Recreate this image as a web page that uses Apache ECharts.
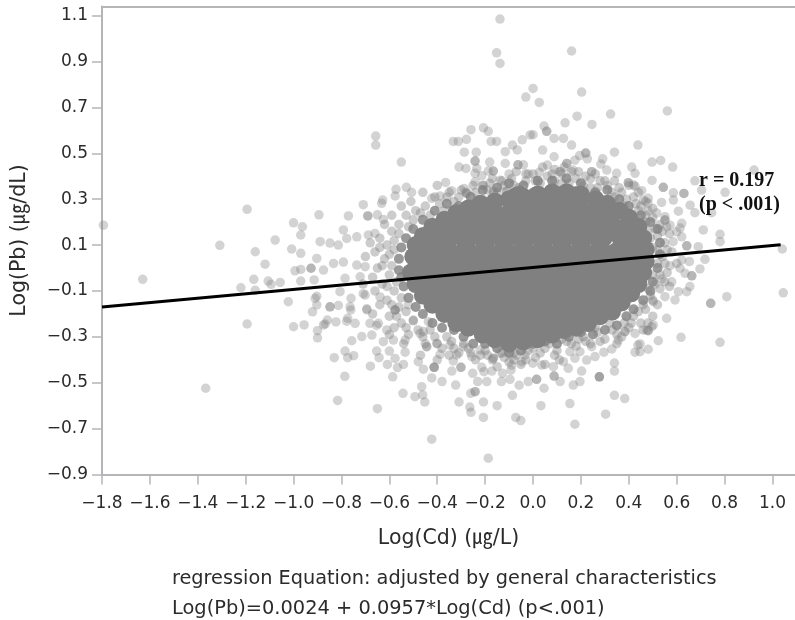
<!DOCTYPE html>
<html>
<head>
<meta charset="utf-8">
<script src="https://cdn.jsdelivr.net/npm/echarts@6/dist/echarts.min.js"></script>
<style>
html,body{margin:0;padding:0;background:#fff}
#c{width:795px;height:620px;filter:blur(0.6px)}
</style>
</head>
<body>
<div id="c"></div>
<script>
const xTicks = [-1.8,-1.6,-1.4,-1.2,-1.0,-0.8,-0.6,-0.4,-0.2,0.0,0.2,0.4,0.6,0.8,1.0];
const yTicks = [-0.9,-0.7,-0.5,-0.3,-0.1,0.1,0.3,0.5,0.7,0.9,1.1];
const xName = 'Log(Cd) (㎍/L)';
const yName = 'Log(Pb) (㎍/dL)';
const noteLine1 = 'regression Equation: adjusted by general characteristics';
const noteLine2 = 'Log(Pb)=0.0024 + 0.0957*Log(Cd) (p<.001)';
const rText = 'r = 0.197';
const pText = '(p < .001)';
const fitLine = [[-1.8,-0.17],[1.034,0.101]];

// scattered points
const outerTop = [[-0.138,1.085],[-0.152,0.938],[-0.138,0.892],[-0.03,0.745],[0,0.783],[-0.657,0.575],[-0.657,0.536],[-0.55,0.462],[-0.259,0.603],[-0.207,0.611],[-0.187,0.596],[-0.333,0.552],[-0.312,0.552],[-0.278,0.561],[-0.175,0.552],[-0.152,0.552],[-0.045,0.559],[-0.086,0.536],[-0.066,0.515],[-0.116,0.507],[-0.287,0.505],[-0.237,0.505],[-0.242,0.466],[-0.242,0.466],[-0.181,0.462],[-0.116,0.456],[-0.063,0.45],[-0.063,0.45],[-0.04,0.45],[-0.309,0.44],[-0.28,0.434],[-0.235,0.434],[-0.166,0.423],[-0.166,0.423],[-0.187,0.423],[-0.242,0.413],[-0.214,0.402],[-0.1,0.41],[-0.02,0.41],[-0.138,0.383],[-0.242,0.376],[-0.365,0.373],[-0.207,0.36],[-0.572,0.343],[-0.529,0.352],[-0.507,0.33],[-0.576,0.314],[-0.628,0.296],[-0.423,0.304],[-0.388,0.314],[-0.34,0.337],[-0.288,0.347],[-0.277,0.325],[-0.277,0.325],[-0.166,0.332],[-0.166,0.332],[-0.11,0.335],[-0.11,0.335],[-0.054,0.34],[-0.054,0.34],[-0.012,0.58],
[0.161,0.946],[0.203,0.767],[0.026,0.722],[0.561,0.685],[0.184,0.662],[0.324,0.671],[0.134,0.633],[0.246,0.626],[0.046,0.619],[0.057,0.596],[0.057,0.596],[0.0,0.581],[0.088,0.565],[0.127,0.565],[0.161,0.536],[0.438,0.536],[0.04,0.514],[0.34,0.505],[0.22,0.501],[0.22,0.501],[0.195,0.49],[0.088,0.485],[0.227,0.476],[0.291,0.476],[0.175,0.47],[0.497,0.462],[0.533,0.469],[0.583,0.44],[0.412,0.44],[0.426,0.413],[0.141,0.456],[0.141,0.456],[0.283,0.453],[0.06,0.449],[0.026,0.417],[0.113,0.42],[0.113,0.42],[0.167,0.427],[0.245,0.42],[0.245,0.42],[0.349,0.413],[0.308,0.427],[0.497,0.382],[0.676,0.38],[0.923,0.427],[0.398,0.372],[0.398,0.372],[0.426,0.357],[0.454,0.337],[0.544,0.352],[0.544,0.352],[0.586,0.328],[0.63,0.325],[0.63,0.325],[0.704,0.34],[0.802,0.33],[0.481,0.304]];
const outerRight = [[0.586,0.296],[0.537,0.286],[0.607,0.248],[0.656,0.274],[0.676,0.241],[0.746,0.241],[0.551,0.224],[0.621,0.195],[0.572,0.187],[0.6,0.158],[0.711,0.166],[0.781,0.147],[0.781,0.115],[0.621,0.136],[0.585,0.115],[0.642,0.097],[0.642,0.097],[0.69,0.093],[1.041,0.083],[1.045,-0.108],[0.809,-0.125],[0.742,-0.154],[0.742,-0.154],[0.618,-0.302],[0.781,-0.324],[0.718,0.038],[0.697,-0.004],[0.621,0.035],[0.653,0.028],[0.572,0.01],[0.614,-0.001],[0.663,-0.034],[0.663,-0.034],[0.635,-0.023],[0.579,-0.06],[0.537,-0.048],[0.655,-0.081],[0.642,-0.103],[0.607,-0.103],[0.551,-0.125],[0.593,-0.139],[0.502,-0.147],[0.558,-0.219],[0.496,-0.256],[0.475,-0.27],[0.523,-0.317],[0.438,-0.336],[0.46,0.296],[0.551,0.209],[0.551,0.209],[0.558,0.18],[0.614,0.174],[0.516,0.24],[0.48,0.283],[0.419,0.362]];
const outerBottom = [[0.502,-0.248],[0.481,-0.273],[0.481,-0.273],[0.447,-0.331],[0.481,-0.354],[0.426,-0.367],[0.447,-0.365],[0.384,-0.277],[0.384,-0.277],[0.426,-0.285],[0.356,-0.314],[0.329,-0.353],[0.296,-0.367],[0.259,-0.386],[0.34,-0.414],[0.34,-0.449],[0.277,-0.474],[0.277,-0.474],[0.277,-0.474],[0.203,-0.449],[0.196,-0.495],[0.168,-0.51],[0.34,-0.555],[0.383,-0.569],[0.154,-0.591],[0.303,-0.637],[0.175,-0.681],[0.033,-0.6],[0.046,-0.524],[0.015,-0.485],[0.015,-0.485],[0.088,-0.471],[0.088,-0.471],[0.113,-0.495],[0.147,-0.437],[0.085,-0.43],[0.036,-0.423],[-0.001,-0.415],[0.175,-0.393],[0.224,-0.401],[0.196,-0.365],[0.127,-0.408],[0.154,-0.365],[0.245,-0.343],
[-0.816,-0.577],[-0.65,-0.613],[-0.679,-0.428],[-0.586,-0.474],[-0.543,-0.546],[-0.493,-0.561],[-0.465,-0.517],[-0.461,-0.553],[-0.452,-0.584],[-0.423,-0.746],[-0.187,-0.829],[-0.309,-0.584],[-0.264,-0.606],[-0.259,-0.629],[-0.207,-0.651],[-0.207,-0.584],[-0.15,-0.6],[-0.072,-0.651],[-0.051,-0.665],[-0.086,-0.555],[-0.058,-0.511],[-0.02,-0.495],[-0.132,-0.495],[-0.096,-0.485],[-0.127,-0.459],[-0.092,-0.444],[-0.193,-0.495],[-0.231,-0.495],[-0.242,-0.539],[-0.242,-0.539],[-0.26,-0.546],[-0.323,-0.51],[-0.38,-0.495],[-0.423,-0.479],[-0.413,-0.433],[-0.413,-0.433],[-0.413,-0.433],[-0.458,-0.441],[-0.479,-0.408],[-0.541,-0.42],[-0.566,-0.434],[-0.608,-0.42],[-0.643,-0.391],[-0.576,-0.394],[-0.653,-0.362],[-0.6,-0.362],[-0.534,-0.367],[-0.339,-0.449],[-0.333,-0.405],[-0.301,-0.433],[-0.301,-0.433],[-0.252,-0.459],[-0.214,-0.433],[-0.172,-0.449],[-0.205,-0.452],[-0.388,-0.376],[-0.319,-0.379],[-0.256,-0.386],[-0.166,-0.393],[-0.166,-0.393],[-0.089,-0.423],[-0.047,-0.408],[-0.715,-0.299],[-0.673,-0.292],[-0.625,-0.321],[-0.583,-0.314],[-0.534,-0.314],[-0.458,-0.277],[-0.444,-0.343],[-0.444,-0.343],[-0.402,-0.328],[-0.347,-0.336],[-0.291,-0.343],[-0.221,-0.357],[-0.138,-0.372],[-0.082,-0.372],[-0.033,-0.379]];
const outerLeft = [[-1.794,0.187],[-1.194,0.256],[-1.308,0.099],[-1.63,-0.049],[-1.077,0.122],[-1.0,0.197],[-0.963,0.18],[-0.97,0.144],[-1.008,0.083],[-0.97,0.064],[-1.16,0.071],[-1.119,0.017],[-0.894,0.232],[-0.771,0.227],[-0.709,0.276],[-0.632,0.282],[-0.69,0.227],[-0.69,0.227],[-0.65,0.232],[-0.625,0.212],[-0.792,0.166],[-0.994,-0.012],[-0.97,-0.006],[-0.927,-0.001],[-0.927,-0.001],[-0.97,-0.057],[-0.903,0.042],[-1.166,-0.049],[-1.106,-0.057],[-1.056,-0.063],[-1.094,-0.071],[-1.22,-0.086],[-1.16,-0.097],[-1.022,-0.147],[-1.194,-0.244],[-1.367,-0.524],[-0.914,-0.052],[-0.903,-0.123],[-0.889,0.115],[-0.848,0.109],[-0.813,0.1],[-0.778,0.129],[-0.736,0.136],[-0.688,0.144],[-0.66,0.151],[-0.875,-0.009],[-0.833,0.02],[-0.792,0.026],[-0.736,0.013],[-0.701,0.006],[-0.785,-0.045],[-0.722,-0.038],[-0.701,-0.118],[-0.764,-0.169],[-0.694,-0.178],[-0.653,-0.25],[-0.778,-0.232],[-0.868,-0.244],
[-1.0,-0.256],[-0.956,-0.248],[-0.9,-0.273],[-0.9,-0.304],[-0.921,-0.191],[-0.859,-0.227],[-0.875,-0.248],[-0.823,-0.235],[-0.757,-0.317],[-0.83,-0.391],[-0.785,-0.362],[-0.774,-0.391],[-0.749,-0.382],[-0.786,-0.472],[-0.91,-0.132],[-0.848,-0.169],[-0.848,-0.169],[-0.813,-0.163],[-0.903,-0.161],[-0.761,-0.183],[-0.76,-0.132],[-0.694,-0.182],[-0.774,-0.219],[-0.743,-0.241],[-0.646,-0.241],[-0.576,-0.183],[-0.576,-0.183],[-0.576,-0.183],[-0.611,-0.27],[-0.681,-0.241],[-0.521,-0.161],[-0.5,-0.227],[-0.437,-0.234],[-0.472,-0.285],[-0.806,-0.103],[-0.709,-0.112],[-0.639,-0.126]];
// points of the crowded band round the solid core, estimated
const band = [[-0.45,0.27],[-0.41,0.31],[-0.37,0.25],[-0.33,0.29],[-0.30,0.34],[-0.27,0.28],[-0.24,0.33],[-0.21,0.30],[-0.18,0.37],[-0.15,0.33],[-0.12,0.36],[-0.09,0.39],[-0.06,0.35],[-0.03,0.38],[0.0,0.41],[0.03,0.37],[0.06,0.40],[0.09,0.38],[0.12,0.41],[0.15,0.37],[0.18,0.39],[0.21,0.36],[0.24,0.39],[0.27,0.35],[0.30,0.38],[0.33,0.33],[0.36,0.35],[0.39,0.30],[0.42,0.31],[0.45,0.27],[0.48,0.25],[0.50,0.22],[0.53,0.19],[0.47,0.20],[0.52,0.14],[0.55,0.11],[0.50,0.09],[0.54,0.05],[0.58,0.07],[0.52,0.02],[0.56,-0.02],[0.50,-0.03],[0.53,-0.09],[0.49,-0.12],[0.52,-0.16],[0.47,-0.18],[0.50,-0.21],[0.45,-0.24],[0.42,-0.21],[0.40,-0.26],[0.37,-0.30],[0.33,-0.27],[0.30,-0.31],[0.27,-0.28],[0.24,-0.33],[0.21,-0.30],[0.18,-0.34],[0.14,-0.32],[0.10,-0.36],[0.07,-0.33],[0.03,-0.37],[0.0,-0.35],[-0.03,-0.40],[-0.07,-0.38],[-0.10,-0.41],[-0.13,-0.37],[-0.17,-0.40],[-0.20,-0.36],[-0.24,-0.40],[-0.27,-0.35],[-0.31,-0.37],[-0.34,-0.32],[-0.38,-0.35],[-0.41,-0.30],[-0.45,-0.33],[-0.48,-0.27],[-0.52,-0.29],[-0.55,-0.24],[-0.58,-0.26],[-0.60,-0.21],[-0.56,-0.17],[-0.61,-0.14],[-0.58,-0.10],[-0.63,-0.07],[-0.60,-0.03],[-0.65,0.0],[-0.62,0.04],[-0.66,0.07],[-0.61,0.10],[-0.64,0.13],[-0.59,0.16],[-0.62,0.19],[-0.56,0.19],[-0.59,0.23],[-0.53,0.23],[-0.55,0.27],[-0.49,0.25],[-0.51,0.29],[-0.68,0.11],[-0.70,0.05],[-0.67,-0.04],[-0.71,-0.07],[-0.66,-0.10],[-0.64,-0.16],[-0.67,-0.20],[-0.60,-0.29],[-0.54,-0.33],[-0.47,-0.38],[-0.40,-0.40],[-0.35,-0.38],[-0.10,-0.34],[-0.40,0.36],[-0.46,0.33],[-0.35,0.33],[-0.21,0.36],[0.09,0.43],[0.16,0.42],[0.26,0.41],[0.34,0.38],[0.40,0.36],[0.44,0.25],[0.57,0.15],[0.48,0.16],[0.60,0.02],[0.55,-0.06],[0.46,-0.27],[0.35,-0.33],[0.11,-0.40],[0.05,-0.42]];
const band2 = [[-0.58,0.12],[-0.56,0.15],[-0.52,0.18],[-0.50,0.21],[-0.47,0.24],[-0.43,0.23],[-0.39,0.28],[-0.36,0.31],[-0.31,0.31],[-0.28,0.33],[-0.25,0.36],[-0.19,0.34],[-0.17,0.39],[-0.13,0.38],[-0.08,0.36],[-0.07,0.42],[-0.03,0.41],[0.01,0.38],[0.04,0.44],[0.08,0.41],[0.12,0.37],[0.13,0.44],[0.19,0.42],[0.22,0.40],[0.24,0.35],[0.28,0.38],[0.31,0.36],[0.34,0.31],[0.37,0.33],[0.38,0.27],[0.43,0.28],[0.44,0.33],[0.47,0.29],[0.47,0.23],[0.50,0.26],[0.51,0.17],[0.49,0.13],[0.54,0.16],[0.52,0.08],[0.56,0.08],[0.55,0.02],[0.53,-0.03],[0.57,-0.08],[0.51,-0.07],[0.48,-0.09],[0.50,-0.14],[0.46,-0.16],[0.44,-0.19],[0.48,-0.24],[0.41,-0.24],[0.38,-0.24],[0.35,-0.29],[0.32,-0.24],[0.28,-0.32],[0.26,-0.26],[0.22,-0.32],[0.19,-0.31],[0.16,-0.33],[0.12,-0.31],[0.09,-0.38],[0.05,-0.35],[0.01,-0.39],[-0.02,-0.36],[-0.05,-0.42],[-0.08,-0.40],[-0.12,-0.39],[-0.15,-0.43],[-0.19,-0.38],[-0.22,-0.38],[-0.26,-0.37],[-0.29,-0.33],[-0.33,-0.35],[-0.36,-0.30],[-0.40,-0.33],[-0.43,-0.27],[-0.46,-0.30],[-0.50,-0.23],[-0.53,-0.26],[-0.53,-0.19],[-0.57,-0.21],[-0.55,-0.13],[-0.59,-0.16],[-0.57,-0.06],[-0.61,-0.08],[-0.59,0.01],[-0.63,0.01],[-0.60,0.06],[-0.64,0.09],[-0.58,0.08]];
// darker rim of the core, estimated
const rim = [[-0.56,0.04],[-0.56,-0.01],[-0.55,0.09],[-0.53,0.13],[-0.50,0.17],[-0.46,0.21],[-0.41,0.25],[-0.36,0.28],[-0.31,0.27],[-0.26,0.31],[-0.21,0.34],[-0.15,0.35],[-0.10,0.37],[-0.04,0.36],[0.02,0.38],[0.08,0.38],[0.14,0.39],[0.20,0.37],[0.26,0.33],[0.31,0.34],[0.36,0.30],[0.40,0.27],[0.45,0.23],[0.49,0.20],[0.52,0.17],[0.53,0.11],[0.53,0.06],[0.52,0.0],[0.50,-0.06],[0.49,-0.10],[0.46,-0.14],[0.42,-0.18],[0.39,-0.21],[0.35,-0.25],[0.30,-0.27],[0.25,-0.29],[0.20,-0.28],[0.15,-0.30],[0.10,-0.33],[0.05,-0.32],[0.0,-0.33],[-0.05,-0.36],[-0.10,-0.37],[-0.15,-0.35],[-0.20,-0.33],[-0.25,-0.33],[-0.29,-0.30],[-0.33,-0.27],[-0.38,-0.26],[-0.42,-0.24],[-0.46,-0.20],[-0.49,-0.17],[-0.52,-0.13],[-0.54,-0.08],[-0.55,-0.04]];
// area where the marks merge into a solid mass, estimated
const core = [[-0.06,0.30],[0.02,0.30],[0.10,0.30],[0.18,0.30],
[-0.26,0.22],[-0.18,0.22],[-0.10,0.22],[-0.02,0.22],[0.06,0.22],[0.14,0.22],[0.22,0.22],[0.30,0.22],
[-0.36,0.14],[-0.28,0.14],[-0.20,0.14],[-0.12,0.14],[-0.04,0.14],[0.04,0.14],[0.12,0.14],[0.20,0.14],[0.28,0.14],[0.38,0.14],
[-0.44,0.06],[-0.36,0.06],[-0.28,0.06],[-0.20,0.06],[-0.12,0.06],[-0.04,0.06],[0.04,0.06],[0.12,0.06],[0.20,0.06],[0.28,0.06],[0.36,0.06],[0.44,0.06],
[-0.46,-0.02],[-0.38,-0.02],[-0.30,-0.02],[-0.22,-0.02],[-0.14,-0.02],[-0.06,-0.02],[0.02,-0.02],[0.10,-0.02],[0.18,-0.02],[0.26,-0.02],[0.34,-0.02],[0.42,-0.02],
[-0.42,-0.10],[-0.34,-0.10],[-0.26,-0.10],[-0.18,-0.10],[-0.10,-0.10],[-0.02,-0.10],[0.06,-0.10],[0.14,-0.10],[0.22,-0.10],[0.30,-0.10],[0.38,-0.10],
[-0.30,-0.18],[-0.22,-0.18],[-0.14,-0.18],[-0.06,-0.18],[0.02,-0.18],[0.10,-0.18],[0.18,-0.18],[0.26,-0.18],
[-0.08,-0.26],[0.0,-0.26],[0.06,-0.25],[0.12,-0.25]];
// outline of the solid mass, estimated
const coreEdge = [[-0.50,0.05],[-0.49,0.10],[-0.46,0.14],[-0.42,0.18],[-0.37,0.21],[-0.32,0.24],[-0.27,0.26],[-0.22,0.28],[-0.16,0.29],[-0.10,0.30],[-0.04,0.31],[0.02,0.32],[0.08,0.33],[0.14,0.33],[0.20,0.32],[0.26,0.30],[0.31,0.28],[0.36,0.25],[0.40,0.22],[0.44,0.18],[0.46,0.13],[0.47,0.08],[0.47,0.03],[0.46,-0.02],[0.44,-0.07],[0.41,-0.11],[0.37,-0.15],[0.33,-0.19],[0.28,-0.21],[0.23,-0.24],[0.18,-0.26],[0.13,-0.27],[0.08,-0.29],[0.02,-0.31],[-0.04,-0.32],[-0.10,-0.33],[-0.16,-0.31],[-0.21,-0.29],[-0.27,-0.26],[-0.32,-0.24],[-0.37,-0.20],[-0.42,-0.16],[-0.46,-0.12],[-0.49,-0.07],[-0.51,-0.02],
[-0.33,0.18],[-0.39,0.16],[-0.25,0.25],[0.33,0.19],[0.27,0.26],[0.39,0.18],[-0.18,-0.25],[-0.26,-0.2],[-0.36,-0.14],[0.22,-0.2],[0.3,-0.14],[-0.14,-0.27],[-0.22,-0.24],[-0.34,-0.16],[0.34,-0.14],[0.24,-0.19],[0.42,0.12],[-0.42,0.12]];

const DOT = '#808080';
const FONT = '"DejaVu Sans"';
const BLACK = '#2b2b2b';
const AXIS = '#b3b5b8';
const fmt = v => v.toFixed(1).replace('-', '\u2212');
const dots = (data, size, opacity) => ({
  type:'scatter', data, symbolSize:size, silent:true,
  itemStyle:{color:DOT, opacity}
});

const chart = echarts.init(document.getElementById('c'), null, {renderer:'canvas'});
chart.setOption({
  animation:false,
  backgroundColor:'#fff',
  grid:{left:102, right:0, top:6.5, bottom:145.5},
  xAxis:[{
    type:'value', min:-1.8, max:1.094, position:'bottom',
    name:xName, nameLocation:'middle', nameGap:54,
    nameTextStyle:{fontFamily:FONT+',"Noto Sans CJK KR"', fontSize:20.5, color:BLACK},
    axisLine:{onZero:false, lineStyle:{color:AXIS, width:2}},
    axisTick:{show:true, length:10, customValues:xTicks, lineStyle:{color:AXIS, width:1.5}},
    axisLabel:{customValues:xTicks, formatter:fmt, fontFamily:FONT, fontSize:17, color:BLACK, margin:21},
    splitLine:{show:false}
  },{
    type:'value', min:-1.8, max:1.094, position:'top',
    axisLine:{onZero:false, lineStyle:{color:AXIS, width:2}},
    axisTick:{show:false}, axisLabel:{show:false}, splitLine:{show:false}
  }],
  yAxis:{
    type:'value', min:-0.9, max:1.14,
    name:yName, nameLocation:'middle', nameGap:72, nameRotate:90,
    nameTextStyle:{fontFamily:FONT+',"Noto Sans CJK KR"', fontSize:20.5, color:BLACK},
    axisLine:{onZero:false, lineStyle:{color:AXIS, width:2}},
    axisTick:{show:true, length:10, customValues:yTicks, lineStyle:{color:AXIS, width:1.5}},
    axisLabel:{customValues:yTicks, formatter:fmt, fontFamily:FONT, fontSize:17, color:BLACK, margin:14},
    splitLine:{show:false}
  },
  series:[
    dots(outerTop, 9.5, 0.35),
    dots(outerRight, 9.5, 0.35),
    dots(outerBottom, 9.5, 0.35),
    dots(outerLeft, 9.5, 0.35),
    dots(band, 9.5, 0.4),
    dots(band2, 9.5, 0.4),
    dots(rim, 10, 0.8),
    dots(core, 26, 1),
    dots(coreEdge, 18, 1),
    {type:'line', data:fitLine, showSymbol:false, silent:true, z:10,
     lineStyle:{color:'#000', width:3}}
  ],
  graphic:[
    {type:'text', left:699, top:171, z:20, style:{text:rText, font:'bold 20px "Liberation Serif"', fill:'#111'}},
    {type:'text', left:699, top:195, z:20, style:{text:pText, font:'bold 20px "Liberation Serif"', fill:'#111'}},
    {type:'text', left:172, top:569, z:20, style:{text:noteLine1, font:'19.3px "DejaVu Sans"', fill:BLACK}},
    {type:'text', left:172, top:599, z:20, style:{text:noteLine2, font:'19.4px "DejaVu Sans"', fill:BLACK}}
  ]
});
</script>
</body>
</html>
